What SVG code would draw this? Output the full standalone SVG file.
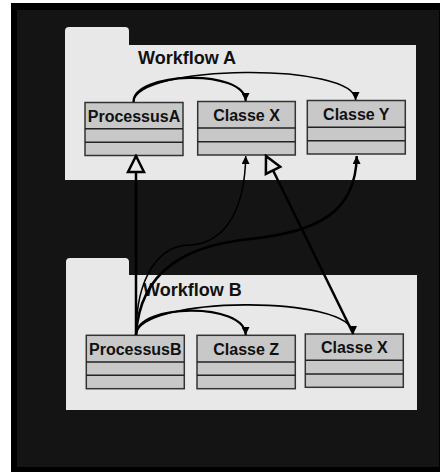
<svg xmlns="http://www.w3.org/2000/svg" width="440" height="472" viewBox="0 0 440 472">
<style>
.pkg{fill:#e8e8e8}
.cls{fill:#c8c8c8;stroke:#333;stroke-width:1.5}
.div{stroke:#222;stroke-width:1.5}
.ttl{font-family:"Liberation Sans",Arial,sans-serif;font-weight:bold;font-size:18px;fill:#111}
.lbl{font-family:"Liberation Sans",Arial,sans-serif;font-weight:bold;font-size:16px;fill:#111;text-anchor:middle}
.dep{fill:none;stroke:#000;marker-end:url(#arr)}
.gen{fill:none;stroke:#000;stroke-width:2.5;marker-end:url(#tri)}
</style>
<defs>
<marker id="arr" markerUnits="userSpaceOnUse" viewBox="0 0 8 8" refX="8" refY="4" markerWidth="8" markerHeight="8" orient="auto">
<path d="M0,0 L8,4 L0,8 z" fill="#000"/>
</marker>
<marker id="tri" markerUnits="userSpaceOnUse" viewBox="0 0 20 20" refX="18" refY="10" markerWidth="20" markerHeight="20" orient="auto">
<path d="M2,2 L18,10 L2,18 z" fill="#e8e8e8" stroke="#000" stroke-width="2.5"/>
</marker>
</defs>
<rect width="440" height="472" fill="#fff"/>
<rect x="11" y="3" width="429" height="469" fill="#000"/>
<rect x="17" y="10" width="422" height="457" fill="#141414"/>

<g id="workflowA">
<path class="pkg" d="M65,45 V31 Q65,27 69,27 H125 Q129,27 129,31 V45 H416 V180 H65 Z"/>
<text class="ttl" x="138" y="64">Workflow A</text>
</g>
<g id="workflowB">
<path class="pkg" d="M66,275 V262 Q66,258 70,258 H125 Q129,258 129,262 V275 H417 V410 H66 Z"/>
<text class="ttl" x="143" y="296">Workflow B</text>
</g>

<g id="processusA">
<rect class="cls" x="85" y="102.5" width="98" height="53"/>
<line class="div" x1="85" y1="128.7" x2="183" y2="128.7"/>
<line class="div" x1="85" y1="142.3" x2="183" y2="142.3"/>
<text class="lbl" x="134" y="122">ProcessusA</text>
</g>
<g id="classeXA">
<rect class="cls" x="197.7" y="101.5" width="97.6" height="53.5"/>
<line class="div" x1="197.7" y1="128" x2="295.3" y2="128"/>
<line class="div" x1="197.7" y1="141.7" x2="295.3" y2="141.7"/>
<text class="lbl" x="246.5" y="121.3">Classe X</text>
</g>
<g id="classeY">
<rect class="cls" x="307.3" y="100.5" width="98" height="53.5"/>
<line class="div" x1="307.3" y1="127.3" x2="405.3" y2="127.3"/>
<line class="div" x1="307.3" y1="140.7" x2="405.3" y2="140.7"/>
<text class="lbl" x="356.3" y="120">Classe Y</text>
</g>
<g id="processusB">
<rect class="cls" x="86.3" y="335.3" width="98" height="53.4"/>
<line class="div" x1="86.3" y1="362" x2="184.3" y2="362"/>
<line class="div" x1="86.3" y1="375.3" x2="184.3" y2="375.3"/>
<text class="lbl" x="135.3" y="355.3">ProcessusB</text>
</g>
<g id="classeZ">
<rect class="cls" x="197" y="335.3" width="98.3" height="53.4"/>
<line class="div" x1="197" y1="362" x2="295.3" y2="362"/>
<line class="div" x1="197" y1="375.3" x2="295.3" y2="375.3"/>
<text class="lbl" x="246.2" y="355.3">Classe Z</text>
</g>
<g id="classeXB">
<rect class="cls" x="305.3" y="334" width="98" height="53.3"/>
<line class="div" x1="305.3" y1="360.3" x2="403.3" y2="360.3"/>
<line class="div" x1="305.3" y1="374" x2="403.3" y2="374"/>
<text class="lbl" x="354.3" y="353.3">Classe X</text>
</g>

<g id="connectors">
<path class="dep" stroke-width="2.2" d="M133.5,102 C133,72 245,68 245.7,101"/>
<path class="dep" stroke-width="1.6" d="M133.5,102 C136,64 355,62 355.7,100"/>
<path class="dep" stroke-width="2.2" d="M136,335 C137,303 245,302 245.7,335"/>
<path class="dep" stroke-width="1.6" d="M136,335 C138,296 352,294 353.3,334"/>
<path class="gen" d="M136,335 V156"/>
<path class="gen" d="M353.3,334 L266,156"/>
<path class="dep" stroke-width="1.5" d="M136,335 C136,275 160,245 190,245 C228,243 245,205 245.7,156"/>
<path class="dep" stroke-width="2.5" d="M136,335 C140,268 190,245 250,239 C318,232 356,212 356.7,156"/>
</g>
</svg>
